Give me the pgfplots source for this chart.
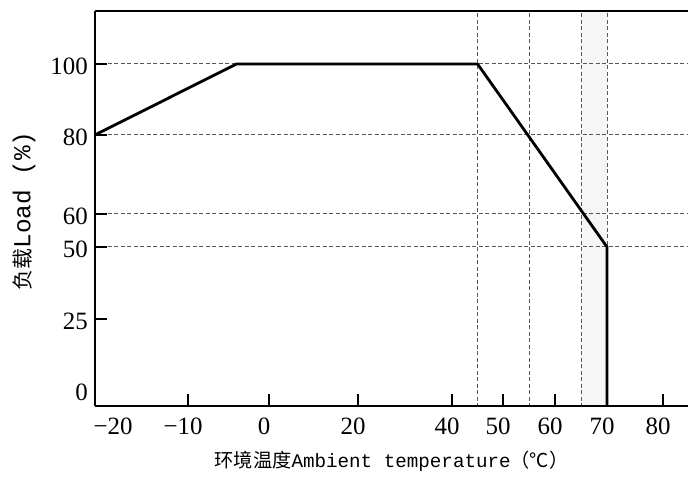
\documentclass[border=0pt]{standalone}
\usepackage{fontspec}
\setmainfont{Liberation Serif}
\newfontfamily\cjk{Noto Sans CJK SC}
\newfontfamily\mono{Liberation Mono}
\usepackage{pgfplots}
\pgfplotsset{compat=1.18}
\definecolor{gridc}{HTML}{4A5A66}
\definecolor{bandc}{HTML}{F6F6F6}

% the scales of the original are uneven, so map values piecewise
\pgfplotsset{
  mygrid/.style={gridc, line width=1bp, dash pattern=on 4bp off 2.5bp, forget plot},
}
\tikzset{mytick/.style={black, line width=1.3bp}}

\begin{document}
\begin{tikzpicture}
\begin{axis}[
    name=ax,
    scale only axis,
    width=596bp, height=395bp,
    x coord trafo/.code={\pgfmathparse{#1<-20 ? 95+(#1+25)*4.6 : (#1<-10 ? 118+(#1+20)*7 : (#1<0 ? 188+(#1+10)*8.1 : (#1<20 ? 269+#1*4.45 : (#1<40 ? 358+(#1-20)*4.7 : (#1<50 ? 452+(#1-40)*5.1 : (#1<60 ? 503+(#1-50)*5.2 : (#1<70 ? 555+(#1-60)*5.2 : 607+(#1-70)*5.6)))))))}},
    y coord trafo/.code={\pgfmathparse{#1<25 ? 16+#1*2.84 : (#1<50 ? 87+(#1-25)*2.88 : (#1<60 ? 159+(#1-50)*3.3 : (#1<80 ? 192+(#1-60)*3.95 : 271+(#1-80)*3.55)))}},
    xmin=-25, xmax=85,
    ymin=-5.63, ymax=114.9,
    separate axis lines,
    x axis line style={line width=2.3bp},
    y axis line style={line width=1.8bp},
    axis on top,
    clip mode=individual,
    xtick pos=left, ytick pos=left,
    tick style={draw=none},
    xtick={-10,0,20,40,50,60,70,80},
    xticklabels={−10,0,20,40,50,60,70,80},
    ytick={25,50,60,80,100},
    yticklabels={25,50,60,80,100},
    xticklabel style={font=\fontsize{25}{25}\selectfont, inner sep=0pt, anchor=north, yshift=-12bp, xshift=-5bp},
    yticklabel style={font=\fontsize{25}{25}\selectfont, inner sep=0pt, anchor=east, xshift=-7bp, yshift=-2bp},
    xlabel={{\cjk 环境温度}{\mono Ambient temperature}{\cjk （℃）}},
    xlabel style={font=\fontsize{19.3}{20}\selectfont, at={(axis description cs:0.4975,-0.139)}, anchor=center},
    ylabel={{\fontsize{21}{21}\selectfont\cjk 负载}{\mono Load (\%)}},
    ylabel style={font=\fontsize{24.5}{25}\selectfont, at={(axis description cs:-0.1191,0.494)}, anchor=center},
]

% faint band between 65 and 70
\addplot[fill=bandc, draw=none, forget plot] coordinates {
    (65,-5.63) (65,114.9) (70,114.9) (70,-5.63) (65,-5.63)
};

% dashed guide lines
\addplot[mygrid] coordinates {(-25,100) (85,100)};
\addplot[mygrid] coordinates {(-25,80) (85,80)};
\addplot[mygrid] coordinates {(-25,60) (85,60)};
\addplot[mygrid] coordinates {(-25,50) (85,50)};
\addplot[mygrid] coordinates {(45,-6) (45,115)};
\addplot[mygrid] coordinates {(55,-6) (55,115)};
\addplot[mygrid] coordinates {(65,-6) (65,115)};
\addplot[mygrid] coordinates {(70,-6) (70,115)};

% derating curve
\addplot[black, line width=2.8bp, line join=round] coordinates {
    (-25,80)
    (-4,100)
    (45,100)
    (70,50)
    (70,-6)
};

% tick marks, pointing inward (fractions of the axis box)
\pgfplotsinvokeforeach{0.1560,0.2919,0.4413,0.5990,0.6846,0.7718,0.9530}{
  \draw[mytick] (axis description cs:#1,0) -- (axis description cs:#1,0.0304);
}
\pgfplotsinvokeforeach{0.2203,0.4025,0.4861,0.6861,0.8658}{
  \draw[mytick] (axis description cs:0,#1) -- (axis description cs:0.0201,#1);
}

% labels that have no tick mark in the original
\node[font=\fontsize{25}{25}\selectfont, inner sep=0pt, anchor=north]
    at ([xshift=-5bp,yshift=-12bp]axis description cs:0.0386,0) {−20};
\node[font=\fontsize{25}{25}\selectfont, inner sep=0pt, anchor=east]
    at ([xshift=-7bp,yshift=-2bp]axis description cs:0,0.0405) {0};

\end{axis}
\pgfresetboundingbox
\path[use as bounding box] ([xshift=-95bp,yshift=-72bp]ax.south west) rectangle ([xshift=-3bp,yshift=11bp]ax.north east);
\end{tikzpicture}
\end{document}
